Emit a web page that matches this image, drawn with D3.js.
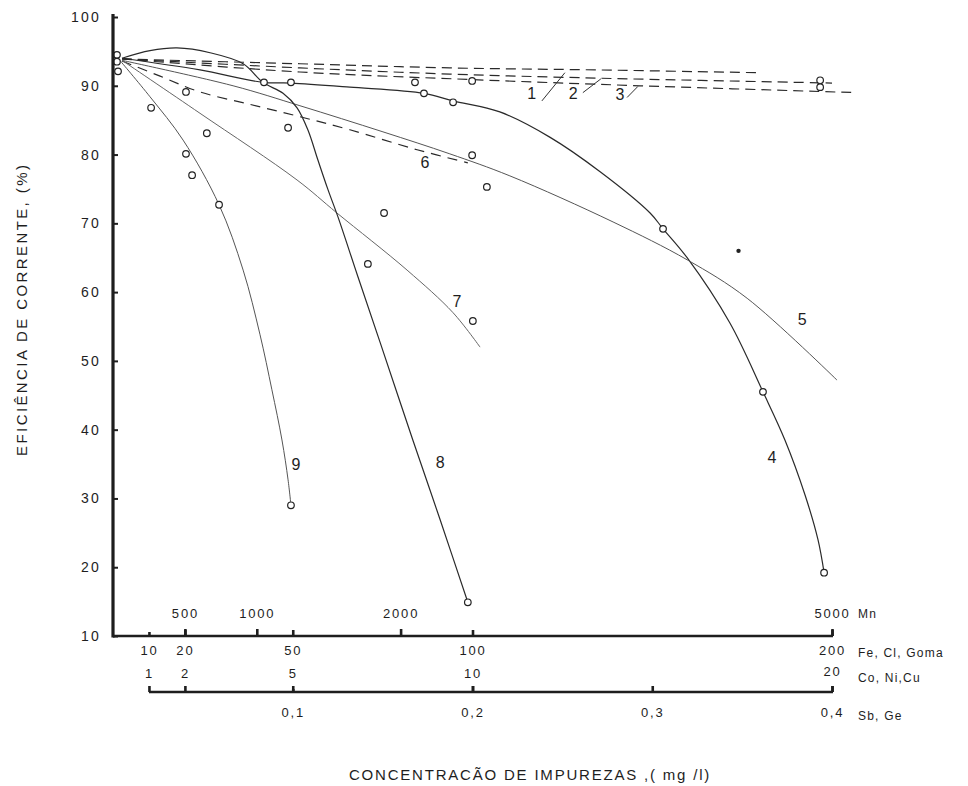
<!DOCTYPE html>
<html>
<head>
<meta charset="utf-8">
<script src="https://cdn.jsdelivr.net/npm/d3@7"></script>
<style>
  html, body { margin: 0; padding: 0; background: #fff; }
  svg text { font-family: "Liberation Sans", "DejaVu Sans", sans-serif; fill: #1e1e1e; }
</style>
</head>
<body>
<svg id="chart" width="968" height="786"></svg>
<script>
// ---------- data (x in Fe/Cl/Goma mg/l units, y in %) ----------
const yTicks = [10, 20, 30, 40, 50, 60, 70, 80, 90, 100];
const mnTicks = [500, 1000, 2000, 5000];
const feTicks = [10, 20, 50, 100, 200];
const coTicks = [1, 2, 5, 10, 20];
const sbTicks = [0.1, 0.2, 0.3, 0.4];

const curve1 = [[2.5,93.9],[52,93.2],[93.7,92.6],[135.5,92.3],[179.1,91.9]];
const curve2 = [[2.5,93.9],[52,92.6],[93.7,91.7],[135.5,91.1],[200,90.4]];
const curve3 = [[2.5,93.9],[52,92.0],[99.9,90.9],[146.6,90.0],[207,89.0]];
const curve4 = [[2.5,94.0],[24.2,92.3],[41.7,90.5],[49.5,90.4],[65.9,89.8],[86.5,88.9],[94.6,87.8],[107.6,86.2],[121.6,82.5],[135.5,77.5],[149.4,71.5],[153,69.2],[159.7,65.0],[171.6,55.5],[180.8,45.5],[186.9,38.5],[192.5,30.5],[196.1,24.0],[197.8,19.2]];
const curve5 = [[2.5,93.7],[33.4,90.0],[52,87.1],[75.1,83.3],[93.7,80.1],[110.4,76.9],[139.1,70.2],[159.7,64.7],[176.4,59.1],[201.4,47.2]];
const curve6 = [[2.5,93.6],[13.1,91.4],[24.2,89.1],[38.1,87.3],[52,85.5],[65.9,83.6],[84.6,80.7],[98.7,78.8]];
const curve7 = [[2.5,93.7],[24.2,86.0],[51.2,76.3],[62.3,71.5],[81.8,63.2],[94.6,57.0],[102.1,52.0]];
const curve8 = [[2.5,94.0],[10.3,95.1],[17.8,95.5],[27.0,94.8],[36.2,93.2],[41.7,90.5],[47.3,88.9],[51.2,86.8],[54.2,83.6],[57.0,79.2],[59.8,74.9],[62.6,70.9],[67.9,62.6],[74.3,52.7],[83.4,38.5],[91.0,26.9],[98.7,14.9]];
const curve9 = [[1.9,93.7],[10.3,88.4],[19.5,82.1],[29.5,72.7],[36.2,63.2],[40.9,53.8],[44.2,45.8],[47.0,38.5],[48.7,32.7],[49.5,29.0]];

const points = [[1.1,94.5],[1.1,93.5],[1.4,92.1],[10.6,86.8],[20.3,89.1],[26.1,83.1],[20.3,80.1],[22,77.0],[29.5,72.7],
  [42,90.5],[49.5,90.5],[48.7,83.9],[84,90.5],[86.5,88.9],[94.6,87.6],[99.9,90.7],[99.9,79.9],[104,75.3],
  [75.4,71.5],[70.9,64.1],[100.1,55.8],[49.5,29.0],[98.7,14.9],[153,69.2],[180.8,45.5],[197.8,19.2],[196.7,90.8],[196.7,89.8]];
const dots = [[174,66.0]];

const curveLabels = [["1",116.5,88.7],["2",128,88.7],["3",141,88.5],["4",183.3,35.7],["5",191.7,55.9],
  ["6",86.8,78.6],["7",95.7,58.4],["8",91,35.0],["9",50.9,34.7]];
const leaders = [[[119.3,87.8],[125.7,91.9]],[[130.7,89.0],[135.7,91.0]],[[143,88.3],[146,89.9]]];

// ---------- scales ----------
const svg = d3.select("#chart");
const x = d3.scaleLinear().domain([0, 200]).range([113, 832]);
const xMn = d3.scaleLinear().domain([0, 5000]).range([113, 832]);
const xCo = d3.scaleLinear().domain([0, 20]).range([113, 832]);
const xSb = d3.scaleLinear().domain([0, 0.4]).range([113, 832]);
const y = d3.scaleLinear().domain([10, 100]).range([636, 17]);

const ink = "#1e1e1e";
const line = d3.line().x(d => x(d[0])).y(d => y(d[1])).curve(d3.curveCatmullRom.alpha(0.5));

// ---------- curves ----------
const styles = [
  {d: curve1, c: "#2a2a2a", w: 1.2, dash: "10,6"},
  {d: curve2, c: "#2a2a2a", w: 1.2, dash: "10,6"},
  {d: curve3, c: "#2a2a2a", w: 1.2, dash: "10,6"},
  {d: curve4, c: "#2a2a2a", w: 1.2, dash: null},
  {d: curve5, c: "#555", w: 1.0, dash: null},
  {d: curve6, c: "#2a2a2a", w: 1.2, dash: "10,7"},
  {d: curve7, c: "#666", w: 1.0, dash: null},
  {d: curve8, c: "#2a2a2a", w: 1.2, dash: null},
  {d: curve9, c: "#555", w: 1.0, dash: null}
];
svg.append("g").selectAll("path").data(styles).join("path")
  .attr("d", s => line(s.d))
  .attr("fill", "none")
  .attr("stroke", s => s.c)
  .attr("stroke-width", s => s.w)
  .attr("stroke-dasharray", s => s.dash);

// leaders
svg.append("g").selectAll("line").data(leaders).join("line")
  .attr("x1", d => x(d[0][0])).attr("y1", d => y(d[0][1]))
  .attr("x2", d => x(d[1][0])).attr("y2", d => y(d[1][1]))
  .attr("stroke", "#333").attr("stroke-width", 1);

// points
svg.append("g").selectAll("circle").data(points).join("circle")
  .attr("cx", d => x(d[0])).attr("cy", d => y(d[1])).attr("r", 3.3)
  .attr("fill", "#fff").attr("stroke", "#222").attr("stroke-width", 1.2);
svg.append("g").selectAll("circle").data(dots).join("circle")
  .attr("cx", d => x(d[0])).attr("cy", d => y(d[1])).attr("r", 2.2)
  .attr("fill", "#222");

// curve labels
svg.append("g").selectAll("text").data(curveLabels).join("text")
  .attr("x", d => x(d[1])).attr("y", d => y(d[2]))
  .attr("text-anchor", "middle").attr("dominant-baseline", "middle")
  .attr("font-size", 16).text(d => d[0]);

// ---------- axes ----------
const fmtComma = d => String(d).replace(".", ",");
const fmtPlain = d3.format("d");

// y axis
const gy = svg.append("g").attr("transform", `translate(${x(0)},0)`)
  .call(d3.axisLeft(y).tickValues(yTicks).tickSizeInner(-5).tickSizeOuter(0).tickPadding(12));
gy.select(".domain").remove();
gy.selectAll(".tick line").attr("stroke", ink).attr("stroke-width", 2);
gy.selectAll(".tick text").attr("font-size", 14).attr("letter-spacing", 2.2).attr("fill", ink)
  .attr("font-family", "Liberation Sans, sans-serif");
svg.append("line").attr("x1", x(0)).attr("x2", x(0)).attr("y1", y(100) - 3).attr("y2", y(10) + 1.5)
  .attr("stroke", ink).attr("stroke-width", 3.2);

// main x axis line (Mn / Fe)
svg.append("line").attr("x1", x(0)).attr("x2", x(200) + 1).attr("y1", y(10)).attr("y2", y(10))
  .attr("stroke", ink).attr("stroke-width", 2.6);

const gMn = svg.append("g").attr("transform", `translate(0,${y(10)})`)
  .call(d3.axisTop(xMn).tickValues(mnTicks).tickFormat(fmtPlain).tickSizeInner(7).tickSizeOuter(0).tickPadding(11));
const gFe = svg.append("g").attr("transform", `translate(0,${y(10)})`)
  .call(d3.axisBottom(x).tickValues(feTicks).tickFormat(fmtPlain).tickSizeInner(-6).tickSizeOuter(0).tickPadding(10));

// second axis line (Co,Ni,Cu / Sb,Ge)
const y2 = y(10) + 56;
svg.append("line").attr("x1", xCo(1)).attr("x2", xCo(20) + 1).attr("y1", y2).attr("y2", y2)
  .attr("stroke", ink).attr("stroke-width", 2.4);
const gCo = svg.append("g").attr("transform", `translate(0,${y2})`)
  .call(d3.axisTop(xCo).tickValues(coTicks).tickFormat(fmtPlain).tickSizeInner(6).tickSizeOuter(0).tickPadding(8));
const gSb = svg.append("g").attr("transform", `translate(0,${y2})`)
  .call(d3.axisBottom(xSb).tickValues(sbTicks).tickFormat(fmtComma).tickSizeInner(-6).tickSizeOuter(0).tickPadding(16));

[gMn, gFe, gCo, gSb].forEach(g => {
  g.select(".domain").remove();
  g.selectAll(".tick line").attr("stroke", ink).attr("stroke-width", 2.6);
  g.selectAll(".tick text").attr("font-size", 13).attr("letter-spacing", 1.8).attr("fill", ink)
    .attr("font-family", "Liberation Sans, sans-serif");
});
gCo.selectAll(".tick text").filter(d => d === 20).attr("dy", "-0.15em");
gSb.selectAll(".tick line").filter(d => d === 0.1).attr("y2", -3);
gFe.selectAll(".tick line").filter(d => d === 10).attr("y2", -4);

// unit names at right end
const unitNames = [["Mn", y(10) - 18], ["Fe, Cl, Goma", y(10) + 21], ["Co, Ni,Cu", y2 - 10], ["Sb, Ge", y2 + 28]];
svg.append("g").selectAll("text").data(unitNames).join("text")
  .attr("x", x(200) + 26).attr("y", d => d[1])
  .attr("font-size", 12).attr("letter-spacing", 1.2).text(d => d[0]);

// axis titles
svg.append("text")
  .attr("transform", `translate(27,${y(57.5)}) rotate(-90)`)
  .attr("text-anchor", "middle").attr("font-size", 15).attr("letter-spacing", 2.4)
  .text("EFICIÊNCIA  DE  CORRENTE, (%)");
svg.append("text")
  .attr("x", 530).attr("y", 780)
  .attr("text-anchor", "middle").attr("font-size", 15).attr("letter-spacing", 1.8)
  .text("CONCENTRACÃO DE  IMPUREZAS ,( mg /l)");
</script>
</body>
</html>
